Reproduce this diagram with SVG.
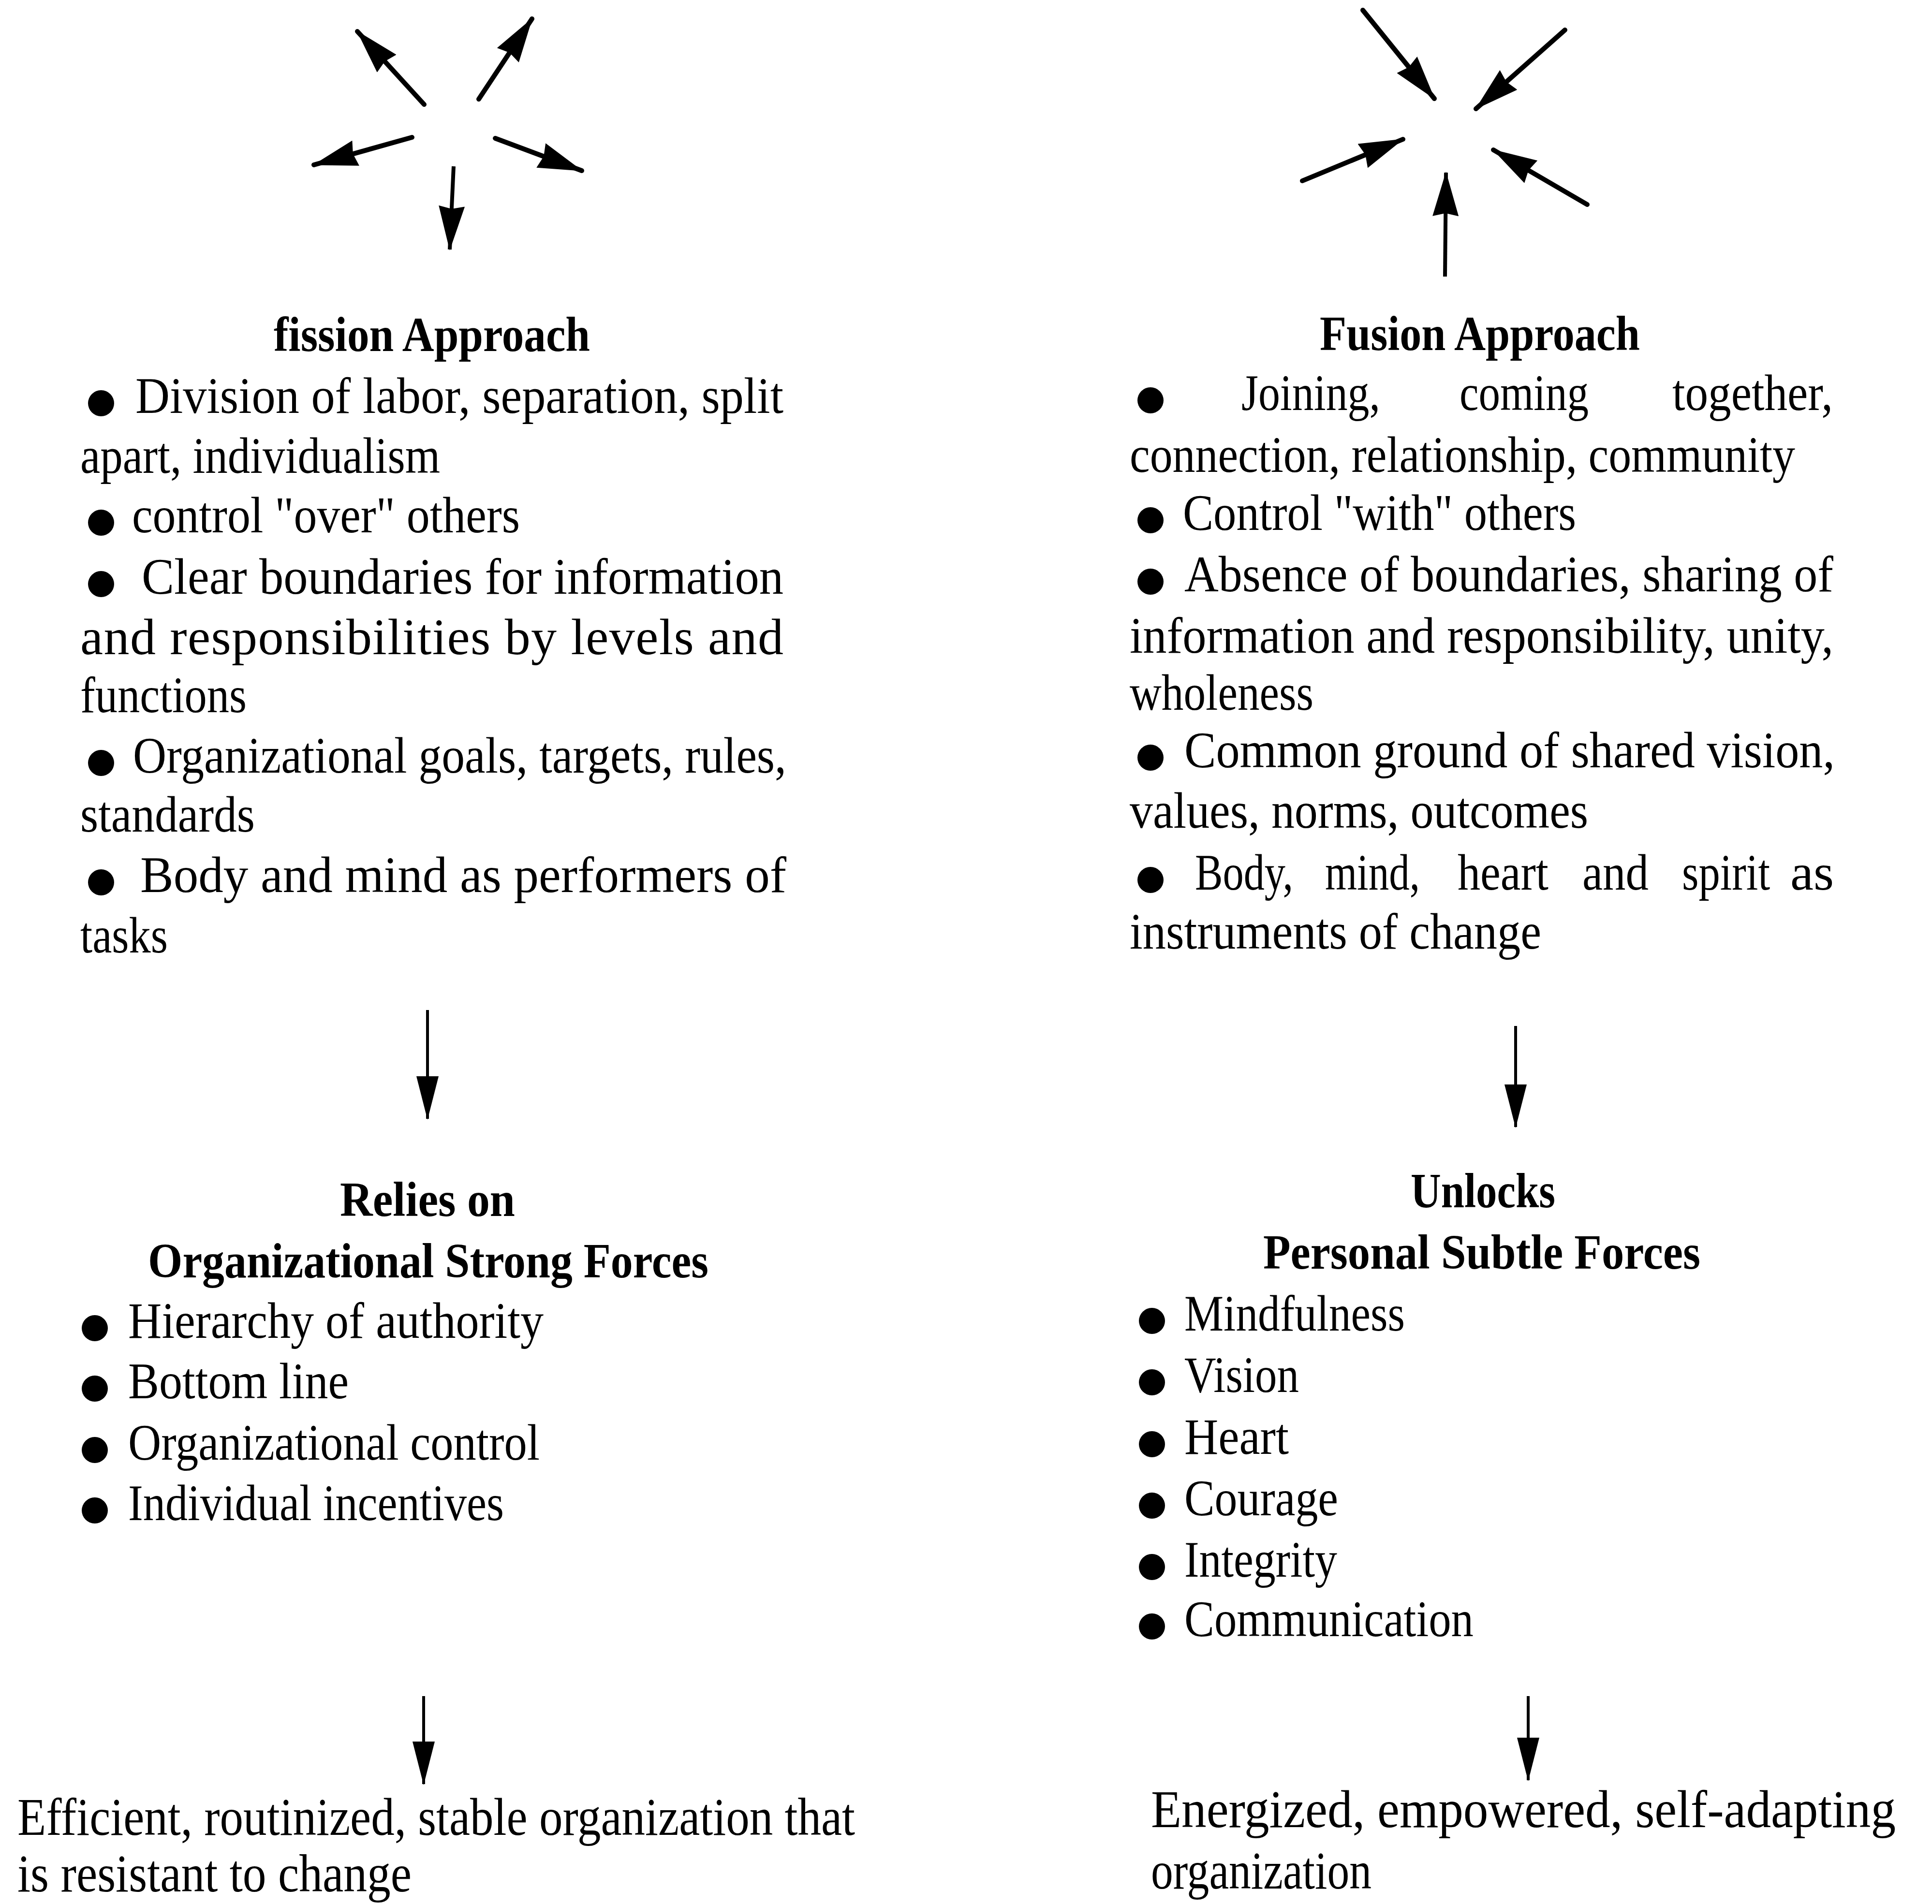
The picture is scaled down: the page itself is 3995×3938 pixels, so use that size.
<svg xmlns="http://www.w3.org/2000/svg" width="3995" height="3938" viewBox="0 0 3995 3938">
  <style>
    text { font-family: "Liberation Serif", "Times New Roman", serif; font-size: 106px; fill: #000; }
    .hd { font-weight: bold; font-size: 102px; }
    .big { font-size: 110px; }
    .dot { fill: #000; }
    .ray { stroke: #000; stroke-width: 10; stroke-linecap: round; fill: none; }
    .ray-thin { stroke: #000; stroke-width: 8; stroke-linecap: butt; fill: none; }
    .flow { stroke: #000; stroke-width: 6; fill: none; }
  </style>
  <defs>
    <marker id="head-ray" viewBox="0 0 92 54" refX="90" refY="27" markerWidth="92" markerHeight="54" markerUnits="userSpaceOnUse" orient="auto">
      <path d="M0,0 L92,27 L0,54 L6,27 Z" fill="#000"/>
    </marker>
    <marker id="head-flow" viewBox="0 0 90 46" refX="88" refY="23" markerWidth="90" markerHeight="46" markerUnits="userSpaceOnUse" orient="auto">
      <path d="M0,0 L90,23 L0,46 Z" fill="#000"/>
    </marker>
  </defs>

  <rect width="3995" height="3938" fill="#fff"/>

  <!-- connectors: radiating / converging bursts and vertical flow arrows -->
  <g id="connectors">
    <g id="burst-out">
      <line class="ray" x1="877" y1="216" x2="739" y2="65" marker-end="url(#head-ray)"/>
      <line class="ray" x1="990" y1="205" x2="1100" y2="39" marker-end="url(#head-ray)"/>
      <line class="ray" x1="852" y1="284" x2="649" y2="341" marker-end="url(#head-ray)"/>
      <line class="ray" x1="1024" y1="286" x2="1203" y2="353" marker-end="url(#head-ray)"/>
      <line class="ray-thin" x1="938" y1="344" x2="930" y2="516" marker-end="url(#head-ray)"/>
    </g>
    <g id="burst-in">
      <line class="ray" x1="2818" y1="21" x2="2966" y2="204" marker-end="url(#head-ray)"/>
      <line class="ray" x1="3236" y1="62" x2="3052" y2="225" marker-end="url(#head-ray)"/>
      <line class="ray" x1="2693" y1="374" x2="2901" y2="288" marker-end="url(#head-ray)"/>
      <line class="ray" x1="3282" y1="423" x2="3088" y2="310" marker-end="url(#head-ray)"/>
      <line class="ray-thin" x1="2988" y1="572" x2="2990" y2="357" marker-end="url(#head-ray)"/>
    </g>
    <line class="flow" x1="884" y1="2089" x2="884" y2="2314" marker-end="url(#head-flow)"/>
    <line class="flow" x1="3134" y1="2122" x2="3134" y2="2331" marker-end="url(#head-flow)"/>
    <line class="flow" x1="876" y1="3508" x2="876" y2="3690" marker-end="url(#head-flow)"/>
    <line class="flow" x1="3160" y1="3508" x2="3160" y2="3682" marker-end="url(#head-flow)"/>
  </g>

  <!-- fission approach -->
  <g id="fission-approach">
    <text class="hd" x="566" y="726" textLength="654" lengthAdjust="spacingAndGlyphs">fission Approach</text>
    <circle class="dot" cx="209" cy="834" r="27"/>
    <text x="280" y="854" textLength="1340" lengthAdjust="spacingAndGlyphs">Division of labor, separation, split</text>
    <text x="166" y="978" textLength="744" lengthAdjust="spacingAndGlyphs">apart, individualism</text>
    <circle class="dot" cx="209" cy="1081" r="27"/>
    <text x="273" y="1101" textLength="802" lengthAdjust="spacingAndGlyphs">control "over" others</text>
    <circle class="dot" cx="209" cy="1208" r="27"/>
    <text x="293" y="1228" textLength="1327" lengthAdjust="spacingAndGlyphs">Clear boundaries for information</text>
    <text x="166" y="1353" textLength="1454" lengthAdjust="spacing">and responsibilities by levels and</text>
    <text x="166" y="1473" textLength="344" lengthAdjust="spacingAndGlyphs">functions</text>
    <circle class="dot" cx="209" cy="1578" r="27"/>
    <text x="275" y="1598" textLength="1351" lengthAdjust="spacingAndGlyphs">Organizational goals, targets, rules,</text>
    <text x="166" y="1720" textLength="361" lengthAdjust="spacingAndGlyphs">standards</text>
    <circle class="dot" cx="209" cy="1825" r="27"/>
    <text x="290" y="1845" textLength="1336" lengthAdjust="spacingAndGlyphs">Body and mind as performers of</text>
    <text x="166" y="1970" textLength="181" lengthAdjust="spacingAndGlyphs">tasks</text>
  </g>

  <!-- fusion approach -->
  <g id="fusion-approach">
    <text class="hd" x="2729" y="724" textLength="662" lengthAdjust="spacingAndGlyphs">Fusion Approach</text>
    <circle class="dot" cx="2379" cy="828" r="27"/>
    <text x="2567" y="848" textLength="287" lengthAdjust="spacingAndGlyphs">Joining,</text>
    <text x="3018" y="848" textLength="267" lengthAdjust="spacingAndGlyphs">coming</text>
    <text x="3458" y="848" textLength="332" lengthAdjust="spacingAndGlyphs">together,</text>
    <text x="2336" y="976" textLength="1376" lengthAdjust="spacingAndGlyphs">connection, relationship, community</text>
    <circle class="dot" cx="2379" cy="1076" r="27"/>
    <text x="2446" y="1096" textLength="813" lengthAdjust="spacingAndGlyphs">Control "with" others</text>
    <circle class="dot" cx="2379" cy="1203" r="27"/>
    <text x="2449" y="1223" textLength="1342" lengthAdjust="spacingAndGlyphs">Absence of boundaries, sharing of</text>
    <text x="2336" y="1350" textLength="1455" lengthAdjust="spacingAndGlyphs">information and responsibility, unity,</text>
    <text x="2336" y="1468" textLength="380" lengthAdjust="spacingAndGlyphs">wholeness</text>
    <circle class="dot" cx="2379" cy="1567" r="27"/>
    <text x="2449" y="1587" textLength="1345" lengthAdjust="spacingAndGlyphs">Common ground of shared vision,</text>
    <text x="2336" y="1712" textLength="948" lengthAdjust="spacingAndGlyphs">values, norms, outcomes</text>
    <circle class="dot" cx="2379" cy="1820" r="27"/>
    <text x="2471" y="1840" textLength="203" lengthAdjust="spacingAndGlyphs">Body,</text>
    <text x="2740" y="1840" textLength="196" lengthAdjust="spacingAndGlyphs">mind,</text>
    <text x="3014" y="1840" textLength="188" lengthAdjust="spacingAndGlyphs">heart</text>
    <text x="3272" y="1840" textLength="137" lengthAdjust="spacingAndGlyphs">and</text>
    <text x="3478" y="1840" textLength="182" lengthAdjust="spacingAndGlyphs">spirit</text>
    <text x="3702" y="1840" textLength="90" lengthAdjust="spacingAndGlyphs">as</text>
    <text x="2336" y="1962" textLength="851" lengthAdjust="spacingAndGlyphs">instruments of change</text>
  </g>

  <!-- strong forces -->
  <g id="strong-forces">
    <text class="hd" x="703" y="2515" textLength="362" lengthAdjust="spacingAndGlyphs">Relies on</text>
    <text class="hd" x="306" y="2642" textLength="1159" lengthAdjust="spacingAndGlyphs">Organizational Strong Forces</text>
    <circle class="dot" cx="196" cy="2747" r="27"/>
    <text x="265" y="2767" textLength="859" lengthAdjust="spacingAndGlyphs">Hierarchy of authority</text>
    <circle class="dot" cx="196" cy="2872" r="27"/>
    <text x="265" y="2892" textLength="456" lengthAdjust="spacingAndGlyphs">Bottom line</text>
    <circle class="dot" cx="196" cy="2999" r="27"/>
    <text x="265" y="3019" textLength="851" lengthAdjust="spacingAndGlyphs">Organizational control</text>
    <circle class="dot" cx="196" cy="3124" r="27"/>
    <text x="265" y="3144" textLength="777" lengthAdjust="spacingAndGlyphs">Individual incentives</text>
  </g>

  <!-- subtle forces -->
  <g id="subtle-forces">
    <text class="hd" x="2917" y="2497" textLength="299" lengthAdjust="spacingAndGlyphs">Unlocks</text>
    <text class="hd" x="2612" y="2624" textLength="904" lengthAdjust="spacingAndGlyphs">Personal Subtle Forces</text>
    <circle class="dot" cx="2382" cy="2732" r="27"/>
    <text x="2449" y="2752" textLength="456" lengthAdjust="spacingAndGlyphs">Mindfulness</text>
    <circle class="dot" cx="2382" cy="2859" r="27"/>
    <text x="2449" y="2879" textLength="237" lengthAdjust="spacingAndGlyphs">Vision</text>
    <circle class="dot" cx="2382" cy="2987" r="27"/>
    <text x="2449" y="3007" textLength="216" lengthAdjust="spacingAndGlyphs">Heart</text>
    <circle class="dot" cx="2382" cy="3114" r="27"/>
    <text x="2449" y="3134" textLength="318" lengthAdjust="spacingAndGlyphs">Courage</text>
    <circle class="dot" cx="2382" cy="3241" r="27"/>
    <text x="2449" y="3261" textLength="316" lengthAdjust="spacingAndGlyphs">Integrity</text>
    <circle class="dot" cx="2382" cy="3364" r="27"/>
    <text x="2449" y="3384" textLength="598" lengthAdjust="spacingAndGlyphs">Communication</text>
  </g>

  <!-- outcomes -->
  <g id="stable-outcome">
    <text class="big" x="36" y="3795" textLength="1732" lengthAdjust="spacingAndGlyphs">Efficient, routinized, stable organization that</text>
    <text class="big" x="36" y="3912" textLength="815" lengthAdjust="spacingAndGlyphs">is resistant to change</text>
  </g>
  <g id="adaptive-outcome">
    <text class="big" x="2380" y="3779" textLength="1540" lengthAdjust="spacingAndGlyphs">Energized, empowered, self-adapting</text>
    <text class="big" x="2380" y="3906" textLength="456" lengthAdjust="spacingAndGlyphs">organization</text>
  </g>
</svg>
